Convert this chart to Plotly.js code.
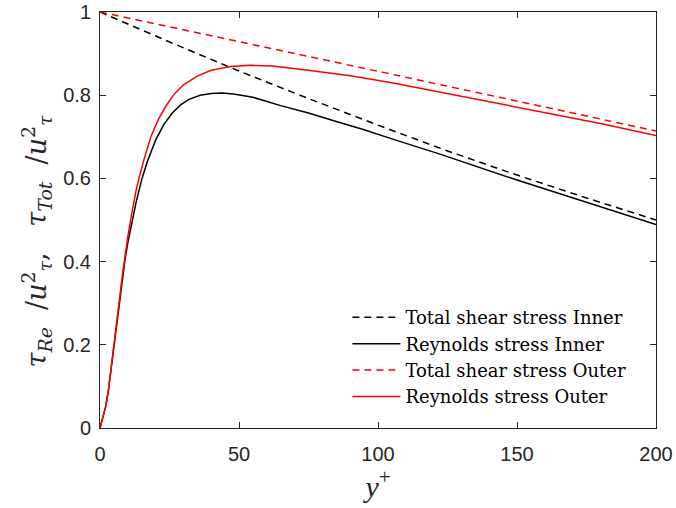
<!DOCTYPE html>
<html>
<head>
<meta charset="utf-8">
<script src="https://cdn.plot.ly/plotly-3.0.1.min.js"></script>
<style>html,body{margin:0;padding:0;background:#fff;}#chart{width:676px;height:508px;}</style>
</head>
<body>
<div id="chart"></div>
<script>
// ---- data ----
var seriesNames = ["Total shear stress Inner", "Reynolds stress Inner", "Total shear stress Outer", "Reynolds stress Outer"];

var totInnerX = [0, 25, 50, 75, 100, 125, 150, 175, 200];
var totInnerY = [1.0, 0.928, 0.858, 0.792, 0.728, 0.666, 0.608, 0.553, 0.500];

var reInnerX = [0, 0.4, 1, 1.5, 2, 3, 4, 5, 6, 7, 8, 9, 10, 11, 12, 13, 15, 17, 20, 23, 26, 29, 32, 36, 40, 44, 48, 55, 65, 75, 85, 95, 105, 122, 150, 180, 200];
var reInnerY = [0, 0.01, 0.02, 0.033, 0.05, 0.089, 0.14, 0.20, 0.255, 0.305, 0.357, 0.405, 0.445, 0.48, 0.513, 0.543, 0.597, 0.64, 0.692, 0.73, 0.757, 0.777, 0.79, 0.80, 0.804, 0.805, 0.803, 0.795, 0.775, 0.757, 0.737, 0.717, 0.695, 0.659, 0.596, 0.532, 0.489];

var totOuterX = [0, 50, 100, 150, 200];
var totOuterY = [1.0, 0.929, 0.857, 0.786, 0.714];

var reOuterX = [0, 0.4, 1, 1.5, 2, 3, 4, 5, 6, 7, 8, 9, 10, 11, 12, 13, 14, 16, 18.3, 21, 24, 27, 30, 35, 40, 47, 54, 62, 75, 90, 105, 122, 150, 180, 200];
var reOuterY = [0, 0.01, 0.02, 0.033, 0.05, 0.09, 0.142, 0.203, 0.258, 0.31, 0.365, 0.415, 0.46, 0.50, 0.54, 0.572, 0.60, 0.65, 0.70, 0.742, 0.777, 0.805, 0.825, 0.846, 0.860, 0.869, 0.872, 0.870, 0.860, 0.847, 0.830, 0.808, 0.772, 0.732, 0.703];

var xTicks = [0, 50, 100, 150, 200];
var yTicks = [0, 0.2, 0.4, 0.6, 0.8, 1];
var yTickText = ["0", "0.2", "0.4", "0.6", "0.8", "1"];

// ---- chart ----
var dashPat = "7px,5px";
var traces = [
  {x: totInnerX, y: totInnerY, name: seriesNames[0], mode: "lines", legendgroup: "a",
   line: {color: "#000000", width: 1.5, dash: dashPat}},
  {x: reInnerX, y: reInnerY, name: seriesNames[1], mode: "lines", legendgroup: "b",
   line: {color: "#000000", width: 1.5}},
  {x: totOuterX, y: totOuterY, name: seriesNames[2], mode: "lines", legendgroup: "c",
   line: {color: "#ff0000", width: 1.5, dash: dashPat}},
  {x: reOuterX, y: reOuterY, name: seriesNames[3], mode: "lines", legendgroup: "d",
   line: {color: "#ff0000", width: 1.5}}
];

var axisCol = "#262626";
var layout = {
  width: 676, height: 508,
  margin: {l: 100, r: 20, t: 12, b: 80},
  paper_bgcolor: "#ffffff", plot_bgcolor: "#ffffff",
  showlegend: true,
  legend: {
    x: 0.445, y: 0.31, xanchor: "left", yanchor: "top",
    bgcolor: "rgba(255,255,255,0)", borderwidth: 0,
    traceorder: "grouped", tracegroupgap: 0, itemwidth: 48,
    font: {family: "DejaVu Serif, serif", size: 18, color: "#000000"}
  },
  xaxis: {
    range: [0, 200], tickvals: xTicks, ticktext: xTicks.map(String),
    showgrid: false, zeroline: false,
    showline: true, linecolor: axisCol, linewidth: 1, mirror: "ticks",
    ticks: "inside", ticklen: 6, tickcolor: axisCol, tickwidth: 1,
    tickfont: {family: "Liberation Sans, Arial, sans-serif", size: 20, color: axisCol},
    ticklabelstandoff: 8,
    title: {text: "<i>y</i><sup>+</sup>", standoff: 6,
      font: {family: "Liberation Serif, DejaVu Serif, serif", size: 30, color: axisCol}}
  },
  yaxis: {
    range: [0, 1], tickvals: yTicks, ticktext: yTickText,
    showgrid: false, zeroline: false,
    showline: true, linecolor: axisCol, linewidth: 1, mirror: "ticks",
    ticks: "inside", ticklen: 6, tickcolor: axisCol, tickwidth: 1,
    tickfont: {family: "Liberation Sans, Arial, sans-serif", size: 20, color: axisCol},
    ticklabelstandoff: 4,
    title: {text: "<i>τ</i><sub><i>Re</i></sub>\u00a0\u00a0/<i>u</i><sup>2</sup><sub><i>τ</i></sub>,\u00a0\u00a0\u00a0<i>τ</i><sub><i>Tot</i></sub>\u00a0\u00a0/<i>u</i><sup>2</sup><sub><i>τ</i></sub>\u00a0\u00a0\u00a0\u00a0<span style=\"color:rgba(0,0,0,0)\">.</span>",
      standoff: 8,
      font: {family: "DejaVu Serif, serif", size: 27, color: axisCol}}
  }
};

Plotly.newPlot("chart", traces, layout, {displayModeBar: false, staticPlot: true});
</script>
</body>
</html>
